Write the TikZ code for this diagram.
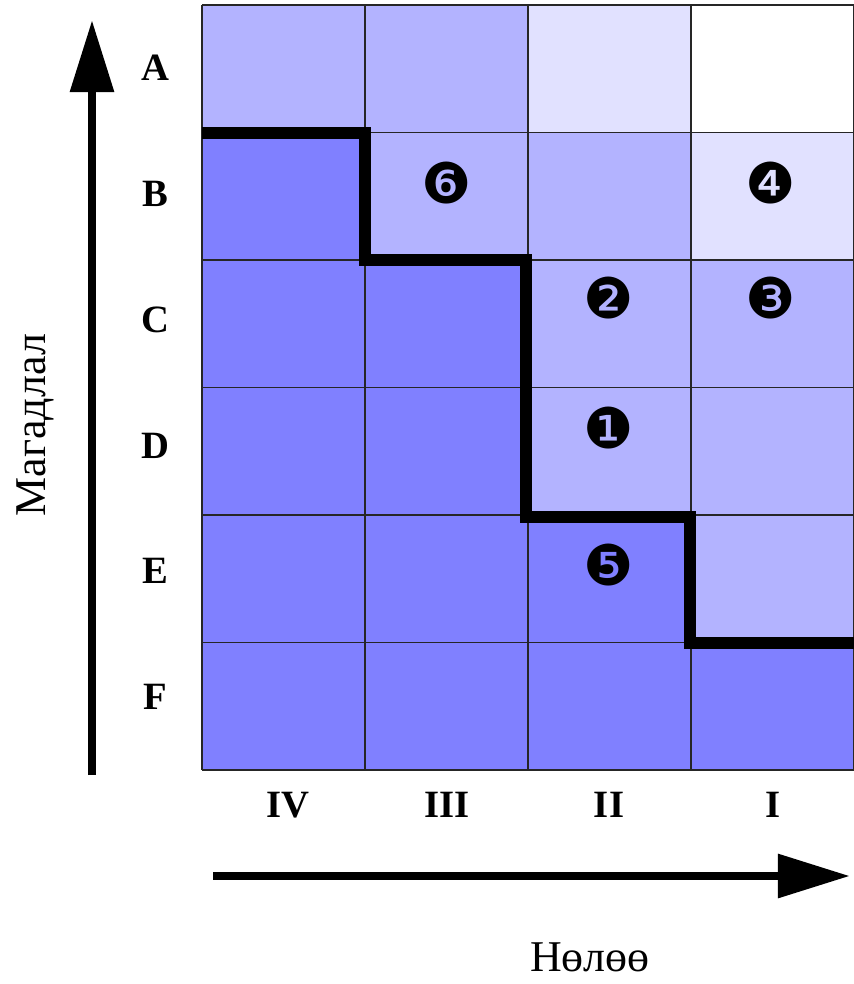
\documentclass[tikz,border=0pt]{standalone}
\usepackage{fontspec}
\setmainfont{Liberation Serif}
\newfontfamily\dingfont{DejaVu Sans}
\usetikzlibrary{arrows.meta}

\definecolor{dark}{RGB}{128,128,255}
\definecolor{mid}{RGB}{179,179,255}
\definecolor{light}{RGB}{225,225,255}

\begin{document}
\begin{tikzpicture}[x=0.02cm,y=-0.02cm,
    gridline/.style={draw=black!85,line width=0.7pt},
    axis/.style={line width=5pt,-{Triangle[length=41pt,width=24pt]}},
    lab/.style={font=\bfseries\fontsize{22}{22}\selectfont},
    big/.style={font=\fontsize{25}{25}\selectfont},
    num/.style={font=\dingfont\fontsize{32}{32}\selectfont}]
\useasboundingbox (0,0) rectangle (854,984);

% cells, row by row (columns IV..I)
\foreach \r/\row in {0/{mid,mid,light,white},1/{dark,mid,mid,light},
    2/{dark,dark,mid,mid},3/{dark,dark,mid,mid},
    4/{dark,dark,dark,mid},5/{dark,dark,dark,dark}}
  \foreach \clr [count=\c from 0] in \row
    \fill[\clr] ({202+163*\c},{5+127.5*\r}) rectangle ++(163,127.5);

\foreach \c in {0,...,4}
  \draw[gridline] ({202+163*\c},5) -- ({202+163*\c},770);
\foreach \r in {0,...,6}
  \draw[gridline] (202,{5+127.5*\r}) -- (854,{5+127.5*\r});

% boundary
\draw[line width=6.3pt] (202,133) -| (365,260) -| (526,517) -| (690,643) -- (854,643);

\foreach \l [count=\i from 0] in {A,B,C,D,E,F}
  \node[lab] (\l) at (155,{68+125.8*\i}) {\l};

\node[lab] (IV) at (288,805) {IV};
\node[lab] (III) at (447,805) {III};
\node[lab] (II) at (609,805) {II};
\node[lab] (I) at (773,805) {I};

\node[num] (n6) at (447,183) {❻};
\node[num] (n4) at (771,183) {❹};
\node[num] (n2) at (609,298) {❷};
\node[num] (n3) at (771,298) {❸};
\node[num] (n1) at (609,428) {❶};
\node[num] (n5) at (609,565) {❺};

\coordinate (ybot) at (92,775);
\coordinate (ytop) at (92,20);
\coordinate (xleft) at (213,876);
\coordinate (xright) at (850,876);
\draw[axis] (ybot) -- (ytop);
\draw[axis] (xleft) -- (xright);

\node[big,rotate=90] (prob) at (35,425) {Магадлал};
\node[big] (imp) at (590,957) {Нөлөө};

\end{tikzpicture}
\end{document}
